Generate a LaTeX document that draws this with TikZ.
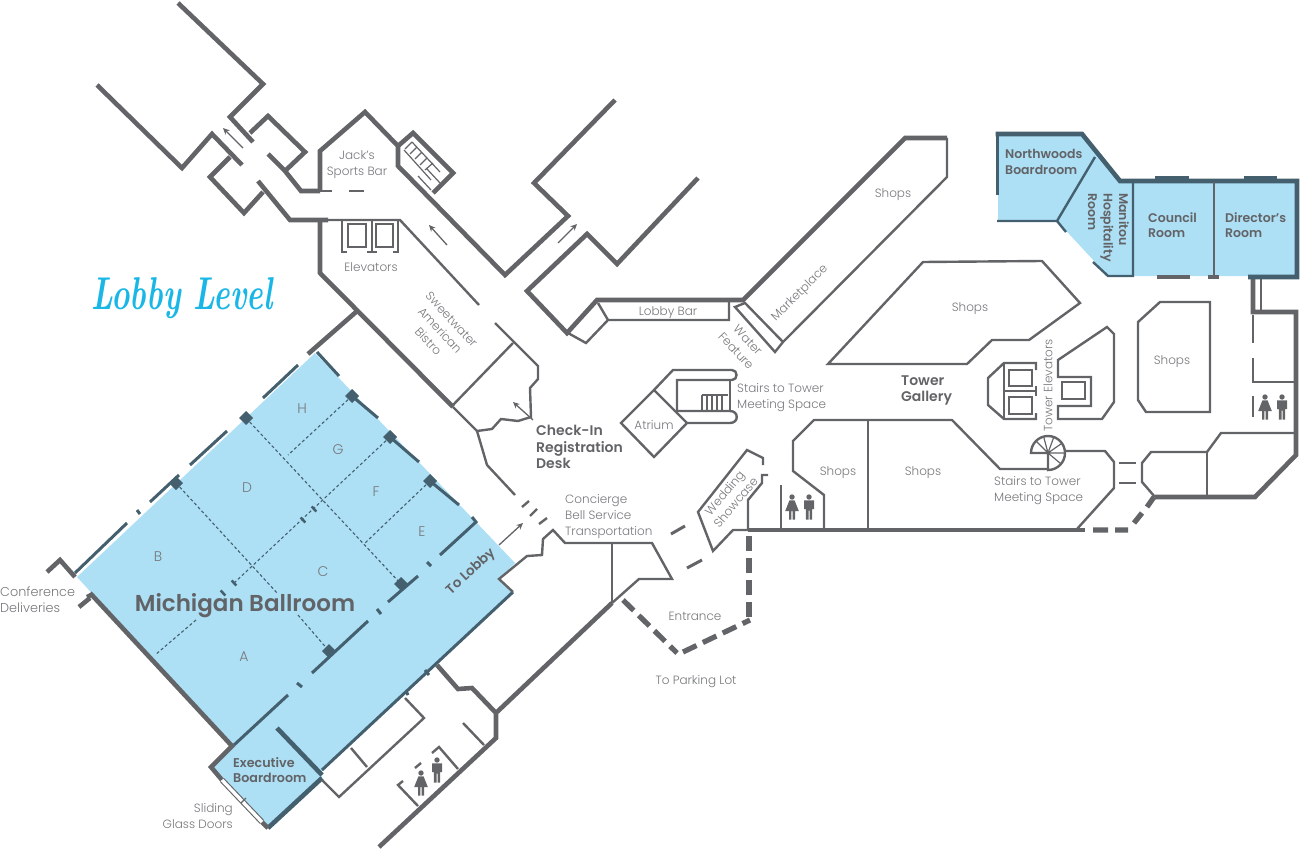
\documentclass[tikz,border=0pt]{standalone}
\usepackage{fontspec}
\setmainfont{Poppins}[UprightFont=* Light,BoldFont=* SemiBold]
\definecolor{wc}{HTML}{636467}
\definecolor{tc}{HTML}{44606E}
\definecolor{bl}{HTML}{ADDFF5}
\definecolor{txt}{HTML}{77787B}
\definecolor{bt}{HTML}{626366}
\definecolor{cy}{HTML}{1AB7E6}
\usetikzlibrary{arrows.meta}
\tikzset{
 wallA/.style={draw=wc,line width=4.6,line join=miter},
 wallB/.style={draw=wc,line width=2.4,line join=miter},
 wallC/.style={draw=wc,line width=1.2},
 tealA/.style={draw=tc,line width=4.6,line join=miter},
 tealB/.style={draw=tc,line width=3,line join=miter},
 tealD/.style={draw=tc,line width=1.1,dash pattern=on 3 off 2.4},
 heavydash/.style={draw=wc,line width=5.2,dash pattern=on 15 off 7},
 lb/.style={font=\fontsize{12}{16}\selectfont,text=txt,inner sep=0,align=center,yshift=-1.5},
 ll/.style={lb,align=left,anchor=west},
 letter/.style={lb,font=\fontsize{14}{16}\selectfont},
 bd/.style={font=\fontsize{12.5}{15.5}\selectfont\bfseries,text=bt,inner sep=0,align=left,anchor=west,yshift=-1},
 arr/.style={draw=wc,line width=1.3,-{Stealth[length=6.5,width=6]}},
 pics/pil/.style={code={\fill[tc] (0,-7) -- (7,0) -- (0,7) -- (-7,0) -- cycle;}},
 pics/pis/.style={code={\fill[tc] (-3.2,-1.6) -- (-1.4,-3.4) -- (3.2,1.6) -- (1.4,3.4) -- cycle;}},
 pics/womanicon/.style={code={\fill[wc] (0,-10) circle (2.7) (-2.6,-6.6) -- (2.6,-6.6) -- (6.8,4) -- (3,4) -- (3,12.5) -- (.6,12.5) -- (.6,4) -- (-.6,4) -- (-.6,12.5) -- (-3,12.5) -- (-3,4) -- (-6.8,4) -- cycle;}},
 pics/manicon/.style={code={\fill[wc] (0,-10) circle (2.7) (-5,-6.6) -- (5,-6.6) -- (5,2.2) -- (3.1,2.2) -- (3.1,12.5) -- (.5,12.5) -- (.5,3.5) -- (-.5,3.5) -- (-.5,12.5) -- (-3.1,12.5) -- (-3.1,2.2) -- (-5,2.2) -- cycle;}},
}
\begin{document}
\begin{tikzpicture}[x=1pt,y=-1pt]
\useasboundingbox (0,0) rectangle (1300,850);
% blue rooms
\fill[bl] (315,353) -- (515,563) -- (499,579) -- (513,592) -- (322,771) -- (322,778) -- (268,828) -- (211,767) -- (232,746) -- (77,577) -- cycle;
\fill[bl] (998,134) -- (1082,134) -- (1120,181) -- (1297,181) -- (1297,276) -- (1108,276) -- (1057,221) -- (998,221) -- cycle;
% upper left corridor
\draw[wallA] (178,3) -- (263,84) -- (230,117) -- (253,142);
\draw[wallA] (250,133) -- (268,116) -- (305,152) -- (285,171);
\draw[wallA] (268,154) -- (285,171) -- (301,191) -- (320,191);
\draw[wallB] (320,191) -- (332,191);
\draw[wallB] (349,191) -- (364,191);
\draw[wallA] (320,192) -- (320,151) -- (365,112) -- (398,146) -- (398,166) -- (505,275) -- (568,216) -- (534,183) -- (615,100);
\draw[wallA] (398,146) -- (413,133) -- (453,173) -- (433,193);
\draw[wallA] (97,85) -- (182,168) -- (212,134) -- (242,165);
\draw[wallA] (230,157) -- (210,177) -- (244,213) -- (263,192);
\draw[wallA] (258,181) -- (290,220) -- (328,220);
\draw[wallB] (328,220) -- (400,220) -- (479,305);
\draw[wallA] (320,220) -- (320,273) -- (453,407);
\draw[wallB] (453,407) -- (477,431) -- (487,465) -- (515,495);
\draw[wallB] (522,507) -- (529,501) (530,516) -- (537,509) (539,524) -- (547,518);
% stairs near bar
\draw[wallC] (405,149) -- (412,142) (410,154) -- (417,147) (415,159) -- (422,152) (420,165) -- (427,158) (425,170) -- (433,163)
 (404,150) -- (431,180) (412,142) -- (440,172) (418,176) -- (431,190) (427,169) -- (440,183);
% elevators
\draw[wallB] (342,220) -- (342,252) -- (347,252) (372,220) -- (372,252) (367,252) -- (377,252) (398,220) -- (398,252) -- (393,252);
\draw[wallC] (348,224) rectangle (366,247) (376,224) rectangle (393,247);
% sweetwater
\draw[wallB] (495,323) -- (538,366) -- (538,379) -- (530,388) -- (531,417) -- (518,421) -- (501,419) -- (492,429) -- (477,431);
\draw[wallB] (513,343) -- (453,405);
% lobby bar / marketplace
\draw[wallA] (698,178) -- (617,264) -- (587,234) -- (527,291) -- (567,333) -- (597,300) -- (743,300) -- (905,138) -- (947,138);
\draw[wallB] (947,138) -- (947,177) -- (783,342) -- (775,352) -- (735,307) -- (745,303) -- (783,342);
\draw[wallB] (598,303) -- (608,320) -- (729,320) -- (729,302);
\draw[wallB] (608,320) -- (586,343) -- (568,333);
\draw[wallB] (828,364) -- (923,262) -- (1042,261) -- (1080,303) -- (1029,340) -- (992,340) -- (967,364) -- cycle;
% atrium
\draw[wallB] (654,390) -- (687,423) -- (654,457) -- (621,423) -- cycle;
\draw[wallB] (654,390) -- (673,370) -- (732,370) .. controls (738,370) and (738,380) .. (732,380) -- (677,380) -- (677,411) -- (730,411) .. controls (739,411) and (739,423) .. (730,423) -- (687,423);
\draw[wallB] (730,380) -- (730,411);
\draw[wallC] (702,395) -- (728,395) (702,395) -- (702,411) (707,395) -- (707,411) (712,395) -- (712,411) (717,395) -- (717,411) (722,395) -- (722,411);
% entrance zone
\draw[tealB] (322,770) -- (513,592);
\draw[wallB] (513,592) -- (499,579) -- (527,556) -- (542,555) -- (543,539) -- (553,530) -- (565,543) -- (652,543) -- (672,579) -- (639,579) -- (612,603);
\draw[wallB] (612,543) -- (612,603);
\draw[wallA] (612,603) -- (497,712);
\draw[heavydash] (623,600) -- (677,653);
\draw[heavydash] (683,652) -- (750,620);
\draw[heavydash] (749,617) -- (749,530);
\draw[wallB,line width=3] (671,534) -- (685,526) (687,568) -- (702,560);
\draw[wallB] (748,530) -- (748,500) -- (762,483) -- (762,475) -- (768,475);
\draw[wallB] (763,465) -- (763,458) -- (747,450) -- (698,512) -- (713,551) -- (733,530) -- (748,530);
% bottom and lower shops
\draw[wallA] (748,530) -- (1085,530);
\draw[wallA,line width=5.2] (1093,530) -- (1108,530) (1115,530) -- (1128,530) (1134,523) -- (1142,513) (1147,507) -- (1154,497);
\draw[wallB] (781,485) -- (781,528);
\draw[wallB] (824,528) -- (824,495) -- (793,471) -- (793,441) -- (814,420) -- (952,420) -- (1000,469) -- (1048,469);
\draw[wallB] (868,420) -- (868,528);
\draw[wallB] (1065,451) -- (1105,451) -- (1114,462) -- (1114,488) -- (1077,529);
\draw[wallB] (1119,463) -- (1136,463) (1119,483) -- (1136,483);
\draw[wallB] (1031,453) arc[start angle=180,end angle=450,radius=17] -- (1048,453) -- cycle;
\draw[wallC] (1048,453) -- ++(225:17) (1048,453) -- ++(255:17) (1048,453) -- ++(290:17) (1048,453) -- ++(325:17) (1048,453) -- ++(0:17) (1048,453) -- ++(40:17);
% right part
\draw[wallA] (1155,497) -- (1255,497) -- (1296,455) -- (1296,312) -- (1253,312) -- (1253,277);
\draw[wallB] (1155,497) -- (1142,482) -- (1142,463) -- (1151,452) -- (1207,452) -- (1221,433) -- (1296,433);
\draw[wallB] (1207,452) -- (1207,497);
\draw[wallB] (1261,279) -- (1261,310);
\draw[wallB] (1253,315) -- (1253,343) (1253,358) -- (1253,382) -- (1295,382) (1253,396) -- (1253,417);
\draw[wallB] (1160,302) -- (1210,302) -- (1210,412) -- (1146,412) -- (1138,400) -- (1138,322) -- cycle;
% tower elevators
\draw[wallB] (1036,370) -- (1036,363) -- (1004,363) -- (988,378) -- (988,405) -- (1004,419) -- (1036,419) -- (1036,413);
\draw[wallB] (1004,363) -- (1004,419) (1004,391) -- (1036,391) (1036,386) -- (1036,396);
\draw[wallC] (1009,370) rectangle (1032,386) (1009,397) rectangle (1032,414);
\draw[wallB] (1058,377) -- (1058,360) -- (1107,327) -- (1114,334) -- (1114,402) -- (1102,419) -- (1058,419) -- (1058,406) -- (1091,406) -- (1091,377) -- cycle;
\draw[wallC] (1062,382) rectangle (1085,399);
% ballroom walls
\draw[tealB] (75,573) -- (127,523) (137,510) -- (140,514) (150,502) -- (179,475) (190,465) -- (227,431) (263,398) -- (298,365);
\draw[wallA] (47,572) -- (60,560) -- (75,577);
\draw[wallA] (308,354) -- (356,312);
\draw[tealB] (317,352) -- (339,376) (352,396) -- (378,418) (390,437) -- (419,462) (430,481) -- (459,505) (472,517) -- (476,522) -- (440,555);
\draw[tealB] (427,562) -- (431,566) (418,576) -- (388,602) (377,609) -- (381,614) (368,621) -- (312,673) (297,683) -- (302,687) (288,695) -- (234,745);
\draw[wallA] (90,593) -- (232,746) -- (211,767) -- (222,780);
\draw[wallA] (79,607) -- (90,598) (88,594) -- (90,598);
\draw[tealA] (277,728) -- (322,775);
\draw[tealA] (268,828) -- (322,778);
\draw[wallA] (262,822) -- (268,828);
\draw[draw=wc,line width=5.6] (222,780) -- (262,822);
\draw[draw=white,line width=3.4] (222,780) -- (262,822);
\draw[wallC] (241,803) -- (246,798);
\draw[tealD] (246,418) -- (401,584) (176,483) -- (278,594) (298,615) -- (329,651);
\draw[tealD] (352,396) -- (288,455) (390,437) -- (234,583) (196,620) -- (155,655) (430,481) -- (365,543);
\foreach \p in {(176,483),(246,418),(352,396),(390,437),(430,481),(401,584),(329,651)} \pic at \p {pil};
\foreach \p in {(314,509),(303,520),(234,583),(223,593)} \pic at \p {pis};
% lower wing
\draw[wallA] (437,665) -- (458,689) -- (472,688) -- (496,713) -- (496,738) -- (379,847);
\draw[wallB] (405,698) -- (424,718) -- (339,797) -- (322,780);
\draw[wallB] (351,748) -- (367,767);
\draw[tealB,line width=3] (406,691) -- (408,695) (425,670) -- (429,675);
\draw[wallB] (403,781) -- (398,785) -- (418,806) (432,753) -- (439,747) -- (458,769) (415,768) -- (421,763) (463,723) -- (484,745);
% arrows
\draw[arr] (243,148) -- (223,128);
\draw[arr] (447,245) -- (429,225);
\draw[arr] (558,243) -- (577,224);
\draw[arr] (533,420) -- (513,402);
\draw[arr] (499,545) -- (523,523);
% upper right rooms
\draw[tealB,line width=3] (997,195) -- (997,134);
\draw[tealA] (995.5,134) -- (1082,134) -- (1120,181) -- (1297,181) -- (1297,277) -- (1248,277);
\draw[wallB,draw=tc] (997,221) -- (1057,221) -- (1095,157);
\draw[wallB,draw=tc] (1057,221) -- (1066,232) (1093,262) -- (1108,276) -- (1133,276) -- (1133,182);
\draw[wallB] (1214,182) -- (1214,276);
\draw[tc,line width=7] (1155,180) -- (1189,180) (1244,180) -- (1277,180);
\draw[wc,line width=3.2] (1157,277) -- (1190,277) (1208,277) -- (1219,277);
% icons
\pic at (421,783) {womanicon};
\pic at (437,770) {manicon};
\pic at (792,507) {womanicon};
\pic at (809,507) {manicon};
\pic at (1265,407) {womanicon};
\pic at (1282,407) {manicon};
% labels
\node[font=\fontsize{46}{46}\selectfont,text=cy,inner sep=0,xscale=.68] (title) at (182,298) {\fontspec{Latin Modern Roman}[BoldItalicFont=*/BI]\bfseries\itshape Lobby Level};
\node[lb] (jack) at (357,163) {Jack's\\Sports Bar};
\node[lb] (elev) at (371,266) {Elevators};
\node[lb,rotate=-47] (sweet) at (440,329) {Sweetwater\\American\\Bistro};
\node[lb] (s1) at (893,193) {Shops};
\node[lb] (s2) at (970,307) {Shops};
\node[lb] (s3) at (1172,360) {Shops};
\node[lb] (s4) at (838,471) {Shops};
\node[lb] (s5) at (923,471) {Shops};
\node[lb] (lbar) at (668,311) {Lobby Bar};
\node[lb,rotate=45] (mkt) at (800,292) {Marketplace};
\node[lb,rotate=-47] (water) at (742,344) {Water\\Feature};
\node[ll] (st1) at (737,396) {Stairs to Tower\\Meeting Space};
\node[bd,font=\fontsize{14}{16}\selectfont\bfseries] (tg) at (901,389) {Tower\\Gallery};
\node[lb] (atr) at (654,424) {Atrium};
\node[bd,font=\fontsize{14}{16.5}\selectfont\bfseries] (chk) at (536,446) {Check-In\\Registration\\Desk};
\node[ll] (conc) at (565,515) {Concierge\\Bell Service\\Transportation};
\node[lb,rotate=50,font=\fontsize{12}{14.5}\selectfont] (wed) at (730,496) {Wedding\\Showcase};
\node[lb] (ent) at (695,615) {Entrance};
\node[lb] (park) at (696,680) {To Parking Lot};
\node[lb,rotate=90] (tel) at (1048,384) {Tower Elevators};
\node[ll] (st2) at (994,489) {Stairs to Tower\\Meeting Space};
\node[bd] (nw) at (1005,161) {Northwoods\\Boardroom};
\node[bd,rotate=-90,anchor=north west] (man) at (1129,192) {Manitou\\Hospitality\\Room};
\node[bd] (cr) at (1148,224) {Council\\Room};
\node[bd] (dr) at (1225,224) {Director's\\Room};
\node[lb,align=left,anchor=west,font=\fontsize{12.8}{15.5}\selectfont] (cd) at (0,598) {Conference\\Deliveries};
\node[lb,align=right,anchor=east] (sg) at (233,815) {Sliding\\Glass Doors};
\node[font=\fontsize{23}{26}\selectfont\bfseries,text=bt,inner sep=0] (mb) at (245,606) {Michigan Ballroom};
\node[bd,font=\fontsize{12.7}{14.5}\selectfont\bfseries] (eb) at (233,769) {Executive\\Boardroom};
\node[bd,anchor=center,rotate=43,font=\fontsize{13.5}{16}\selectfont\bfseries] (tl) at (471,571) {To Lobby};
\node[letter] (ra) at (244,655) {A};
\node[letter] (rb) at (158,555) {B};
\node[letter] (rc) at (323,570) {C};
\node[letter] (rd) at (247,486) {D};
\node[letter] (re) at (422,530) {E};
\node[letter] (rf) at (376,490) {F};
\node[letter] (rg) at (338,448) {G};
\node[letter] (rh) at (302,407) {H};
\end{tikzpicture}
\end{document}
